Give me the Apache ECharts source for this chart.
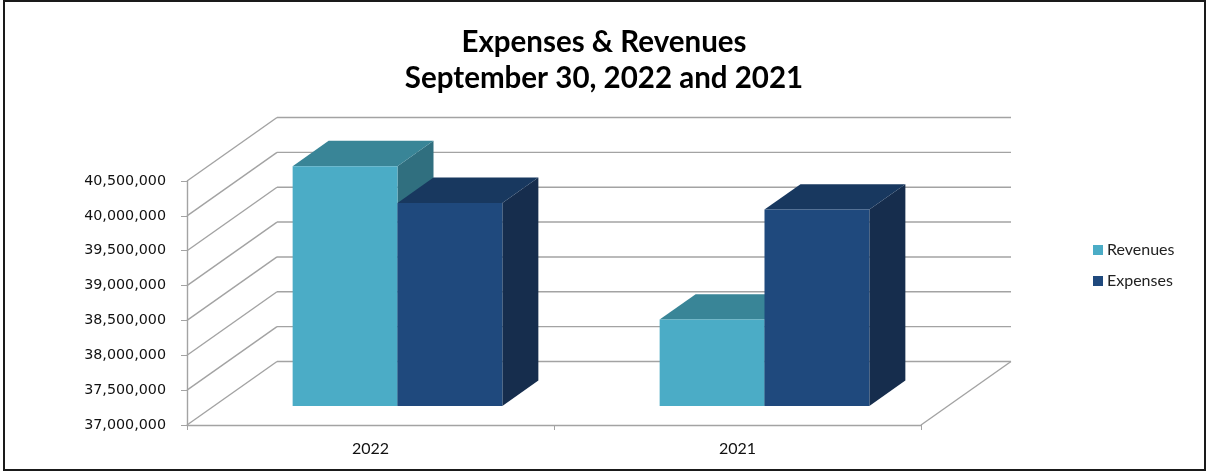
<!DOCTYPE html>
<html>
<head>
<meta charset="utf-8">
<script src="https://cdn.jsdelivr.net/npm/echarts@6/dist/echarts.min.js"></script>
<style>
html,body{margin:0;padding:0;background:#fff;}
#chart{width:1208px;height:472px;}
</style>
</head>
<body>
<div id="chart"></div>
<script>
// ---- data ----
var categories = ['2022', '2021'];
var revenues = [40438000, 38239000];
var expenses = [39912000, 39817000];
var seriesNames = ['Revenues', 'Expenses'];
var yTicks = [37000000, 37500000, 38000000, 38500000, 39000000, 39500000, 40000000, 40500000];
var yMin = 37000000, yMax = 40500000, yStep = 500000;

// ---- 3D look (pixel offsets of the back wall) ----
var DX = 90, DY = -63.5;
var F0 = 0.3, F1 = 0.7; // bar depth range (fraction of floor depth)

var chart = echarts.init(document.getElementById('chart'), null, {renderer: 'canvas'});

function wallItem(params, api) {
  var cs = params.coordSys;
  var v = api.value(1);
  var y = api.coord([0, v])[1];
  var left = cs.x, right = cs.x + cs.width;
  var style = {stroke: '#a3a3a3', lineWidth: 1.4, fill: null};
  var children = [
    {type: 'line', shape: {x1: left, y1: y, x2: left + DX, y2: y + DY}, style: style},
    {type: 'line', shape: {x1: left + DX, y1: y + DY, x2: right + DX, y2: y + DY}, style: style}
  ];
  if (v === yMin) {
    children.push({type: 'line', shape: {x1: right, y1: y, x2: right + DX, y2: y + DY}, style: style});
  }
  return {type: 'group', children: children};
}

function makeBar(name, values, k, front, top, side) {
  return {
    type: 'custom',
    name: name,
    z: 3,
    itemStyle: {color: front},
    encode: {x: 0, y: 1},
    data: values.map(function (v, i) { return [i, v]; }),
    renderItem: function (params, api) {
      var c = api.value(0), v = api.value(1);
      var pt = api.coord([c, v]);
      var base = api.coord([c, yMin]);
      var band = api.size([1, 0])[0];
      var w = band / 3.5;
      var x0 = pt[0] - w + k * w, x1 = x0 + w;
      var yt = pt[1], yb = base[1];
      var fx = F0 * DX, fy = F0 * DY, bx = F1 * DX, by = F1 * DY;
      return {
        type: 'group',
        children: [
          {type: 'polygon', shape: {points: [[x1 + fx, yt + fy], [x1 + bx, yt + by], [x1 + bx, yb + by], [x1 + fx, yb + fy]]}, style: {fill: side}},
          {type: 'polygon', shape: {points: [[x0 + fx, yt + fy], [x1 + fx, yt + fy], [x1 + bx, yt + by], [x0 + bx, yt + by]]}, style: {fill: top}},
          {type: 'rect', shape: {x: x0 + fx, y: yt + fy, width: w, height: yb - yt}, style: {fill: front}}
        ]
      };
    }
  };
}

var option = {
  animation: false,
  backgroundColor: '#ffffff',
  title: {
    text: 'Expenses & Revenues\nSeptember 30, 2022 and 2021',
    left: 'center',
    top: 19,
    textStyle: {fontFamily: 'Lato', fontWeight: 'bold', fontSize: 29.5, lineHeight: 36, color: '#000'}
  },
  legend: {
    orient: 'vertical',
    left: 1088,
    top: 237,
    itemWidth: 10,
    itemHeight: 10,
    itemGap: 15,
    icon: 'rect',
    data: seriesNames,
    textStyle: {fontFamily: 'Lato', fontSize: 16, color: '#222', padding: [0, 0, 0, -1]}
  },
  grid: {left: 187, right: 287, top: 181, bottom: 47, containLabel: false},
  xAxis: {
    type: 'category',
    data: categories,
    boundaryGap: true,
    axisLine: {show: true, lineStyle: {color: '#a3a3a3', width: 1.4}},
    axisTick: {show: true, alignWithLabel: false, interval: 0, length: 5, lineStyle: {color: '#a3a3a3'}},
    axisLabel: {margin: 16, fontFamily: 'Lato', fontSize: 16, color: '#111'},
    splitLine: {show: false}
  },
  yAxis: {
    type: 'value',
    min: yMin,
    max: yMax,
    interval: yStep,
    axisLine: {show: true, lineStyle: {color: '#a3a3a3', width: 1.4}},
    axisTick: {show: true, length: 6, lineStyle: {color: '#a3a3a3'}},
    axisLabel: {
      margin: 21,
      fontFamily: 'DejaVu Sans',
      fontSize: 14.3,
      color: '#111',
      formatter: function (v) { return v.toLocaleString('en-US'); }
    },
    splitLine: {show: false}
  },
  graphic: [
    {type: 'rect', shape: {x: 4, y: 1, width: 1201, height: 469}, style: {fill: null, stroke: '#1a1a1a', lineWidth: 2}, z: 100}
  ],
  series: [
    {
      type: 'custom',
      name: 'walls',
      z: 1,
      silent: true,
      encode: {x: 0, y: 1},
      data: yTicks.map(function (v) { return [0, v]; }),
      renderItem: wallItem
    },
    makeBar('Revenues', revenues, 0, '#4BACC6', '#398597', '#306F7F'),
    makeBar('Expenses', expenses, 1, '#1F497D', '#18385F', '#162D4D')
  ]
};
chart.setOption(option);
</script>
</body>
</html>
